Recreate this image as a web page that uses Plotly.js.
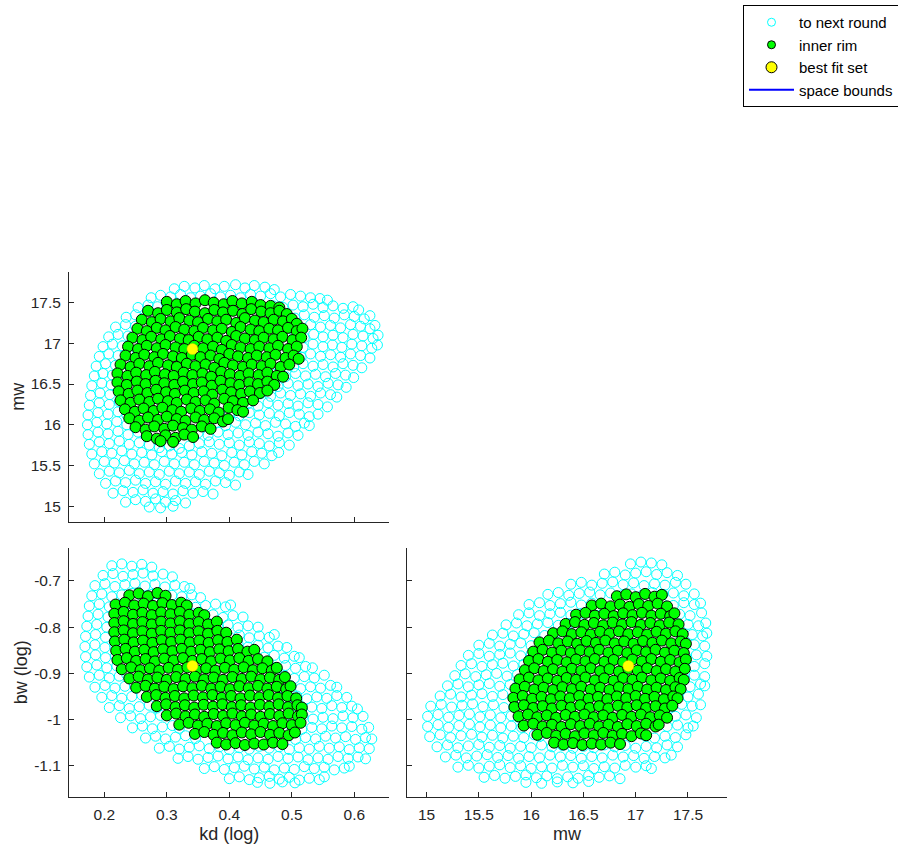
<!DOCTYPE html>
<html>
<head>
<meta charset="utf-8">
<script src="https://cdn.plot.ly/plotly-3.0.1.min.js"></script>
<style>html,body{margin:0;padding:0;background:#fff;}#chart{width:898px;height:850px;}</style>
</head>
<body>
<div id="chart"></div>
<script>
// ---------- data ----------
// top-left panel: [kd (log), mw]
const tlCyan = [
[0.312,17.67],[0.328,17.70],[0.345,17.68],[0.360,17.71],[0.377,17.67],[0.392,17.70],[0.410,17.72],[0.425,17.68],[0.440,17.71],[0.457,17.69],[0.472,17.66],
[0.275,17.56],[0.290,17.59],[0.306,17.57],[0.322,17.60],[0.338,17.56],[0.354,17.58],[0.370,17.61],[0.386,17.57],[0.402,17.59],[0.418,17.56],[0.434,17.60],[0.450,17.58],[0.466,17.61],[0.482,17.57],[0.498,17.60],[0.514,17.58],[0.530,17.56],[0.545,17.55],[0.557,17.53],
[0.254,17.44],[0.270,17.47],[0.285,17.45],[0.300,17.48],[0.470,17.46],[0.486,17.44],[0.502,17.47],[0.518,17.45],[0.534,17.48],[0.550,17.44],[0.566,17.46],[0.582,17.43],[0.598,17.45],[0.607,17.41],
[0.235,17.32],[0.250,17.35],[0.266,17.33],[0.280,17.36],[0.490,17.34],[0.505,17.31],[0.520,17.35],[0.536,17.32],[0.552,17.34],[0.568,17.31],[0.584,17.35],[0.600,17.33],[0.616,17.30],[0.625,17.34],
[0.218,17.20],[0.234,17.23],[0.250,17.21],[0.265,17.24],[0.500,17.22],[0.515,17.19],[0.530,17.23],[0.546,17.20],[0.562,17.22],[0.578,17.19],[0.594,17.23],[0.610,17.21],[0.625,17.18],[0.633,17.22],
[0.207,17.08],[0.222,17.11],[0.238,17.09],[0.254,17.12],[0.505,17.10],[0.520,17.07],[0.535,17.11],[0.550,17.08],[0.566,17.10],[0.582,17.07],[0.598,17.11],[0.614,17.09],[0.630,17.06],[0.638,17.10],
[0.198,16.96],[0.213,16.99],[0.229,16.97],[0.245,17.00],[0.502,16.98],[0.518,16.95],[0.534,16.99],[0.550,16.96],[0.565,16.98],[0.580,16.95],[0.596,16.99],[0.612,16.97],[0.628,16.94],[0.637,16.98],
[0.192,16.84],[0.207,16.87],[0.222,16.85],[0.238,16.88],[0.500,16.86],[0.515,16.83],[0.530,16.87],[0.546,16.84],[0.562,16.86],[0.578,16.83],[0.594,16.87],[0.610,16.85],[0.625,16.82],
[0.187,16.72],[0.202,16.75],[0.218,16.73],[0.233,16.76],[0.488,16.74],[0.503,16.71],[0.518,16.75],[0.534,16.72],[0.550,16.74],[0.566,16.71],[0.582,16.75],[0.598,16.73],[0.612,16.70],
[0.184,16.60],[0.198,16.63],[0.213,16.61],[0.228,16.64],[0.474,16.62],[0.490,16.59],[0.506,16.63],[0.522,16.60],[0.538,16.62],[0.554,16.59],[0.570,16.63],[0.586,16.61],[0.599,16.58],
[0.180,16.48],[0.196,16.51],[0.211,16.49],[0.226,16.52],[0.462,16.50],[0.478,16.47],[0.494,16.51],[0.510,16.48],[0.526,16.50],[0.542,16.47],[0.558,16.51],[0.574,16.49],[0.587,16.46],
[0.178,16.36],[0.193,16.39],[0.209,16.37],[0.224,16.40],[0.450,16.38],[0.466,16.35],[0.482,16.39],[0.498,16.36],[0.514,16.38],[0.530,16.35],[0.546,16.39],[0.562,16.37],[0.572,16.34],
[0.176,16.24],[0.192,16.27],[0.208,16.25],[0.224,16.28],[0.430,16.26],[0.446,16.23],[0.462,16.27],[0.478,16.24],[0.494,16.26],[0.510,16.23],[0.526,16.27],[0.542,16.25],[0.557,16.22],
[0.174,16.12],[0.190,16.15],[0.206,16.13],[0.222,16.16],[0.236,16.12],[0.400,16.14],[0.416,16.11],[0.432,16.15],[0.448,16.12],[0.464,16.14],[0.480,16.11],[0.496,16.15],[0.512,16.13],[0.528,16.10],[0.542,16.13],
[0.173,16.00],[0.188,16.03],[0.204,16.01],[0.220,16.04],[0.236,16.00],[0.250,16.03],[0.378,16.02],[0.394,15.99],[0.410,16.03],[0.426,16.00],[0.442,16.02],[0.458,15.99],[0.474,16.03],[0.490,16.01],[0.506,15.98],[0.520,16.02],[0.528,15.99],
[0.174,15.88],[0.190,15.91],[0.206,15.89],[0.222,15.92],[0.238,15.88],[0.254,15.91],[0.268,15.87],[0.350,15.90],[0.366,15.87],[0.382,15.91],[0.398,15.88],[0.414,15.90],[0.430,15.87],[0.446,15.91],[0.462,15.89],[0.478,15.86],[0.494,15.90],[0.510,15.87],
[0.176,15.76],[0.192,15.79],[0.208,15.77],[0.224,15.80],[0.240,15.76],[0.256,15.78],[0.272,15.75],[0.288,15.72],[0.304,15.74],[0.320,15.71],[0.336,15.74],[0.352,15.77],[0.368,15.79],[0.384,15.76],[0.400,15.78],[0.416,15.75],[0.432,15.79],[0.448,15.77],[0.464,15.74],[0.480,15.78],[0.496,15.75],
[0.180,15.64],[0.196,15.67],[0.212,15.65],[0.228,15.68],[0.244,15.64],[0.260,15.66],[0.276,15.63],[0.292,15.67],[0.308,15.64],[0.324,15.66],[0.340,15.63],[0.356,15.67],[0.372,15.65],[0.388,15.62],[0.404,15.66],[0.420,15.63],[0.436,15.67],[0.452,15.65],[0.468,15.62],[0.479,15.66],
[0.184,15.52],[0.200,15.55],[0.216,15.53],[0.232,15.56],[0.248,15.52],[0.264,15.54],[0.280,15.51],[0.296,15.55],[0.312,15.52],[0.328,15.54],[0.344,15.51],[0.360,15.55],[0.376,15.53],[0.392,15.50],[0.408,15.54],[0.424,15.51],[0.440,15.55],[0.456,15.52],
[0.192,15.40],[0.208,15.43],[0.224,15.41],[0.240,15.44],[0.256,15.40],[0.272,15.42],[0.288,15.39],[0.304,15.43],[0.320,15.40],[0.336,15.42],[0.352,15.39],[0.368,15.43],[0.384,15.41],[0.400,15.38],[0.416,15.42],[0.430,15.39],
[0.202,15.28],[0.218,15.31],[0.234,15.29],[0.250,15.32],[0.266,15.28],[0.282,15.30],[0.298,15.27],[0.314,15.31],[0.330,15.28],[0.346,15.30],[0.362,15.27],[0.378,15.31],[0.394,15.29],[0.410,15.26],
[0.214,15.16],[0.230,15.19],[0.246,15.17],[0.262,15.20],[0.278,15.16],[0.294,15.18],[0.310,15.15],[0.326,15.19],[0.342,15.16],[0.358,15.18],[0.374,15.15],
[0.234,15.05],[0.250,15.08],[0.266,15.06],[0.282,15.09],[0.298,15.05],[0.314,15.07],[0.330,15.04],
[0.272,14.99],[0.290,14.98],[0.310,15.00]
];
const tlGreen = [
[0.300,17.51],[0.316,17.48],[0.330,17.52],[0.346,17.49],[0.361,17.53],[0.375,17.50],[0.391,17.48],[0.405,17.52],[0.420,17.49],[0.436,17.51],[0.450,17.47],[0.466,17.46],[0.480,17.44],
[0.270,17.40],[0.286,17.37],[0.300,17.41],[0.316,17.38],[0.331,17.42],[0.345,17.39],[0.361,17.37],[0.376,17.41],[0.390,17.38],[0.406,17.40],[0.421,17.36],[0.435,17.42],[0.451,17.39],[0.466,17.37],[0.480,17.40],[0.492,17.36],
[0.260,17.29],[0.276,17.26],[0.290,17.30],[0.306,17.27],[0.320,17.31],[0.336,17.28],[0.350,17.26],[0.366,17.30],[0.381,17.27],[0.395,17.29],[0.411,17.25],[0.425,17.31],[0.441,17.28],[0.455,17.26],[0.471,17.29],[0.486,17.27],[0.500,17.30],[0.508,17.24],
[0.253,17.18],[0.268,17.15],[0.284,17.19],[0.298,17.16],[0.314,17.20],[0.328,17.17],[0.344,17.15],[0.358,17.19],[0.374,17.16],[0.388,17.18],[0.404,17.14],[0.418,17.20],[0.434,17.17],[0.448,17.15],[0.464,17.18],[0.478,17.16],[0.494,17.19],[0.508,17.15],[0.517,17.18],
[0.245,17.07],[0.261,17.04],[0.275,17.08],[0.291,17.05],[0.305,17.09],[0.321,17.06],[0.335,17.04],[0.351,17.08],[0.365,17.05],[0.381,17.07],[0.395,17.03],[0.411,17.09],[0.425,17.06],[0.441,17.04],[0.455,17.07],[0.471,17.05],[0.485,17.08],[0.501,17.04],[0.515,17.07],
[0.238,16.96],[0.254,16.93],[0.268,16.97],[0.284,16.94],[0.298,16.98],[0.314,16.95],[0.328,16.93],[0.344,16.97],[0.358,16.94],[0.374,16.96],[0.388,16.92],[0.404,16.98],[0.418,16.95],[0.434,16.93],[0.448,16.96],[0.464,16.94],[0.478,16.97],[0.494,16.93],[0.508,16.96],
[0.234,16.85],[0.250,16.82],[0.264,16.86],[0.280,16.83],[0.294,16.87],[0.310,16.84],[0.324,16.82],[0.340,16.86],[0.354,16.83],[0.370,16.85],[0.384,16.81],[0.400,16.87],[0.414,16.84],[0.430,16.82],[0.444,16.85],[0.460,16.83],[0.474,16.86],[0.490,16.82],[0.503,16.85],[0.511,16.81],
[0.226,16.74],[0.242,16.71],[0.256,16.75],[0.272,16.72],[0.286,16.76],[0.302,16.73],[0.316,16.71],[0.332,16.75],[0.346,16.72],[0.362,16.74],[0.376,16.70],[0.392,16.76],[0.406,16.73],[0.422,16.71],[0.436,16.74],[0.452,16.72],[0.466,16.75],[0.482,16.71],[0.496,16.74],
[0.221,16.63],[0.237,16.60],[0.251,16.64],[0.267,16.61],[0.281,16.65],[0.297,16.62],[0.311,16.60],[0.327,16.64],[0.341,16.61],[0.357,16.63],[0.371,16.59],[0.387,16.65],[0.401,16.62],[0.417,16.60],[0.431,16.63],[0.447,16.61],[0.461,16.64],[0.476,16.60],[0.486,16.59],
[0.221,16.52],[0.236,16.49],[0.252,16.53],[0.266,16.50],[0.282,16.54],[0.296,16.51],[0.312,16.49],[0.326,16.53],[0.342,16.50],[0.356,16.52],[0.372,16.48],[0.386,16.54],[0.402,16.51],[0.416,16.49],[0.432,16.52],[0.446,16.50],[0.461,16.53],[0.472,16.49],
[0.223,16.41],[0.239,16.38],[0.253,16.42],[0.269,16.39],[0.283,16.43],[0.299,16.40],[0.313,16.38],[0.329,16.42],[0.343,16.39],[0.359,16.41],[0.373,16.37],[0.389,16.43],[0.403,16.40],[0.419,16.38],[0.433,16.41],[0.449,16.39],[0.461,16.42],
[0.226,16.30],[0.242,16.27],[0.256,16.31],[0.272,16.28],[0.286,16.32],[0.302,16.29],[0.316,16.27],[0.332,16.31],[0.346,16.28],[0.362,16.30],[0.376,16.26],[0.392,16.32],[0.406,16.29],[0.422,16.27],[0.438,16.30],
[0.233,16.19],[0.249,16.16],[0.263,16.20],[0.279,16.17],[0.293,16.21],[0.309,16.18],[0.323,16.16],[0.339,16.20],[0.353,16.17],[0.369,16.19],[0.383,16.15],[0.399,16.21],[0.413,16.18],[0.422,16.16],
[0.240,16.08],[0.256,16.05],[0.270,16.09],[0.286,16.06],[0.300,16.10],[0.316,16.07],[0.330,16.05],[0.346,16.09],[0.360,16.06],[0.376,16.08],[0.390,16.04],[0.398,16.07],
[0.250,15.97],[0.266,15.94],[0.280,15.98],[0.296,15.95],[0.310,15.99],[0.326,15.96],[0.340,15.94],[0.356,15.98],[0.370,15.95],
[0.268,15.86],[0.284,15.83],[0.298,15.87],[0.314,15.84],[0.328,15.88],[0.342,15.85],
[0.290,15.80],[0.310,15.79]
];
// bottom-left panel: [kd (log), bw (log)]
const blCyan = [
[0.212,-0.667],[0.228,-0.663],[0.244,-0.668],[0.260,-0.664],[0.276,-0.670],
[0.198,-0.688],[0.214,-0.684],[0.230,-0.690],[0.246,-0.686],[0.262,-0.683],[0.278,-0.689],[0.294,-0.685],[0.309,-0.691],
[0.185,-0.710],[0.201,-0.706],[0.217,-0.712],[0.233,-0.708],[0.249,-0.705],[0.265,-0.711],[0.281,-0.707],[0.297,-0.713],[0.313,-0.709],[0.328,-0.712],[0.337,-0.716],
[0.180,-0.732],[0.196,-0.728],[0.212,-0.734],[0.228,-0.730],[0.244,-0.727],[0.260,-0.733],[0.276,-0.729],[0.292,-0.735],[0.308,-0.731],[0.324,-0.734],[0.340,-0.730],[0.354,-0.736],
[0.176,-0.754],[0.192,-0.750],[0.208,-0.756],[0.224,-0.752],[0.238,-0.749],[0.314,-0.755],[0.330,-0.751],[0.346,-0.757],[0.362,-0.753],[0.378,-0.750],[0.394,-0.756],[0.402,-0.752],
[0.174,-0.776],[0.190,-0.772],[0.206,-0.778],[0.222,-0.774],[0.342,-0.771],[0.358,-0.777],[0.374,-0.773],[0.390,-0.779],[0.406,-0.775],[0.422,-0.778],
[0.172,-0.798],[0.188,-0.794],[0.204,-0.800],[0.220,-0.796],[0.366,-0.793],[0.382,-0.799],[0.398,-0.795],[0.414,-0.801],[0.430,-0.797],[0.446,-0.800],
[0.170,-0.820],[0.186,-0.816],[0.202,-0.822],[0.218,-0.818],[0.384,-0.815],[0.400,-0.821],[0.416,-0.817],[0.432,-0.823],[0.448,-0.819],[0.464,-0.822],[0.472,-0.816],
[0.169,-0.842],[0.185,-0.838],[0.201,-0.844],[0.217,-0.840],[0.414,-0.837],[0.430,-0.843],[0.446,-0.839],[0.462,-0.845],[0.478,-0.841],[0.492,-0.844],
[0.170,-0.864],[0.186,-0.860],[0.202,-0.866],[0.218,-0.862],[0.440,-0.859],[0.456,-0.865],[0.472,-0.861],[0.488,-0.867],[0.504,-0.863],[0.512,-0.866],
[0.172,-0.886],[0.188,-0.882],[0.204,-0.888],[0.220,-0.884],[0.458,-0.881],[0.474,-0.887],[0.490,-0.883],[0.506,-0.889],[0.522,-0.885],[0.533,-0.888],
[0.176,-0.908],[0.192,-0.904],[0.208,-0.910],[0.224,-0.906],[0.236,-0.903],[0.472,-0.909],[0.488,-0.905],[0.504,-0.911],[0.520,-0.907],[0.536,-0.910],[0.552,-0.904],
[0.185,-0.930],[0.201,-0.926],[0.217,-0.932],[0.233,-0.928],[0.248,-0.925],[0.482,-0.931],[0.498,-0.927],[0.514,-0.933],[0.530,-0.929],[0.546,-0.932],[0.562,-0.926],[0.572,-0.930],
[0.196,-0.952],[0.212,-0.948],[0.228,-0.954],[0.244,-0.950],[0.260,-0.947],[0.492,-0.953],[0.508,-0.949],[0.524,-0.955],[0.540,-0.951],[0.556,-0.954],[0.572,-0.948],[0.588,-0.952],
[0.208,-0.974],[0.224,-0.970],[0.240,-0.976],[0.256,-0.972],[0.272,-0.969],[0.284,-0.975],[0.500,-0.971],[0.516,-0.977],[0.532,-0.973],[0.548,-0.976],[0.564,-0.970],[0.580,-0.974],[0.596,-0.971],[0.605,-0.977],
[0.226,-0.996],[0.242,-0.992],[0.258,-0.998],[0.274,-0.994],[0.290,-0.991],[0.502,-0.997],[0.518,-0.993],[0.534,-0.999],[0.550,-0.995],[0.566,-0.998],[0.582,-0.992],[0.598,-0.996],[0.614,-0.993],
[0.245,-1.018],[0.261,-1.014],[0.277,-1.020],[0.293,-1.016],[0.309,-1.013],[0.320,-1.019],[0.500,-1.015],[0.516,-1.021],[0.532,-1.017],[0.548,-1.020],[0.564,-1.014],[0.580,-1.018],[0.596,-1.015],[0.612,-1.021],[0.623,-1.017],
[0.266,-1.040],[0.282,-1.036],[0.298,-1.042],[0.314,-1.038],[0.330,-1.035],[0.346,-1.041],[0.490,-1.037],[0.506,-1.043],[0.522,-1.039],[0.538,-1.042],[0.554,-1.036],[0.570,-1.040],[0.586,-1.037],[0.602,-1.043],[0.618,-1.039],[0.628,-1.042],
[0.288,-1.062],[0.304,-1.058],[0.320,-1.064],[0.336,-1.060],[0.352,-1.057],[0.368,-1.063],[0.384,-1.059],[0.400,-1.065],[0.416,-1.061],[0.432,-1.064],[0.448,-1.058],[0.464,-1.062],[0.480,-1.059],[0.496,-1.065],[0.512,-1.061],[0.528,-1.064],[0.544,-1.058],[0.560,-1.062],[0.576,-1.059],[0.592,-1.065],[0.608,-1.061],[0.624,-1.063],
[0.318,-1.084],[0.334,-1.080],[0.350,-1.086],[0.366,-1.082],[0.382,-1.079],[0.398,-1.085],[0.414,-1.081],[0.430,-1.087],[0.446,-1.083],[0.462,-1.086],[0.478,-1.080],[0.494,-1.084],[0.510,-1.081],[0.526,-1.087],[0.542,-1.083],[0.558,-1.086],[0.574,-1.080],[0.590,-1.084],[0.606,-1.081],[0.618,-1.085],
[0.360,-1.106],[0.376,-1.102],[0.392,-1.108],[0.408,-1.104],[0.424,-1.101],[0.440,-1.107],[0.456,-1.103],[0.472,-1.109],[0.488,-1.105],[0.504,-1.108],[0.520,-1.102],[0.536,-1.106],[0.552,-1.103],[0.568,-1.109],[0.584,-1.105],[0.592,-1.101],
[0.400,-1.128],[0.416,-1.124],[0.432,-1.130],[0.448,-1.126],[0.464,-1.123],[0.480,-1.129],[0.496,-1.125],[0.512,-1.131],[0.528,-1.127],[0.544,-1.130],[0.552,-1.124],
[0.445,-1.136],[0.465,-1.138],[0.485,-1.135],[0.505,-1.137]
];
const blGreen = [
[0.240,-0.731],[0.255,-0.727],[0.270,-0.733],[0.285,-0.726],[0.298,-0.732],
[0.218,-0.751],[0.233,-0.747],[0.248,-0.753],[0.263,-0.749],[0.278,-0.754],[0.293,-0.748],[0.308,-0.752],[0.323,-0.747],[0.332,-0.753],
[0.216,-0.771],[0.231,-0.767],[0.246,-0.773],[0.261,-0.769],[0.276,-0.774],[0.291,-0.768],[0.306,-0.772],[0.321,-0.767],[0.336,-0.773],[0.351,-0.769],[0.360,-0.774],
[0.216,-0.791],[0.231,-0.787],[0.246,-0.793],[0.261,-0.789],[0.276,-0.794],[0.291,-0.788],[0.306,-0.792],[0.321,-0.787],[0.336,-0.793],[0.351,-0.789],[0.366,-0.794],[0.380,-0.788],
[0.216,-0.811],[0.231,-0.807],[0.246,-0.813],[0.261,-0.809],[0.276,-0.814],[0.291,-0.808],[0.306,-0.812],[0.321,-0.807],[0.336,-0.813],[0.351,-0.809],[0.366,-0.814],[0.381,-0.808],[0.395,-0.812],
[0.217,-0.831],[0.232,-0.827],[0.247,-0.833],[0.262,-0.829],[0.277,-0.834],[0.292,-0.828],[0.307,-0.832],[0.322,-0.827],[0.337,-0.833],[0.352,-0.829],[0.367,-0.834],[0.382,-0.828],[0.397,-0.832],[0.412,-0.827],
[0.219,-0.851],[0.234,-0.847],[0.249,-0.853],[0.264,-0.849],[0.279,-0.854],[0.294,-0.848],[0.309,-0.852],[0.324,-0.847],[0.339,-0.853],[0.354,-0.849],[0.369,-0.854],[0.384,-0.848],[0.399,-0.852],[0.414,-0.847],[0.429,-0.853],[0.440,-0.849],
[0.221,-0.871],[0.236,-0.867],[0.251,-0.873],[0.266,-0.869],[0.281,-0.874],[0.296,-0.868],[0.311,-0.872],[0.326,-0.867],[0.341,-0.873],[0.356,-0.869],[0.371,-0.874],[0.386,-0.868],[0.401,-0.872],[0.416,-0.867],[0.431,-0.873],[0.446,-0.869],[0.461,-0.874],
[0.228,-0.891],[0.243,-0.887],[0.258,-0.893],[0.273,-0.889],[0.288,-0.894],[0.303,-0.888],[0.318,-0.892],[0.333,-0.887],[0.348,-0.893],[0.363,-0.889],[0.378,-0.894],[0.393,-0.888],[0.408,-0.892],[0.423,-0.887],[0.438,-0.893],[0.453,-0.889],[0.468,-0.894],[0.476,-0.888],
[0.240,-0.911],[0.255,-0.907],[0.270,-0.913],[0.285,-0.909],[0.300,-0.914],[0.315,-0.908],[0.330,-0.912],[0.345,-0.907],[0.360,-0.913],[0.375,-0.909],[0.390,-0.914],[0.405,-0.908],[0.420,-0.912],[0.435,-0.907],[0.450,-0.913],[0.465,-0.909],[0.480,-0.914],[0.489,-0.908],
[0.251,-0.931],[0.266,-0.927],[0.281,-0.933],[0.296,-0.929],[0.311,-0.934],[0.326,-0.928],[0.341,-0.932],[0.356,-0.927],[0.371,-0.933],[0.386,-0.929],[0.401,-0.934],[0.416,-0.928],[0.431,-0.932],[0.446,-0.927],[0.461,-0.933],[0.476,-0.929],[0.491,-0.934],[0.498,-0.928],
[0.268,-0.951],[0.283,-0.947],[0.298,-0.953],[0.313,-0.949],[0.328,-0.954],[0.343,-0.948],[0.358,-0.952],[0.373,-0.947],[0.388,-0.953],[0.403,-0.949],[0.418,-0.954],[0.433,-0.948],[0.448,-0.952],[0.463,-0.947],[0.478,-0.953],[0.493,-0.949],[0.507,-0.954],
[0.284,-0.971],[0.299,-0.967],[0.314,-0.973],[0.329,-0.969],[0.344,-0.974],[0.359,-0.968],[0.374,-0.972],[0.389,-0.967],[0.404,-0.973],[0.419,-0.969],[0.434,-0.974],[0.449,-0.968],[0.464,-0.972],[0.479,-0.967],[0.494,-0.973],[0.509,-0.969],[0.516,-0.974],
[0.300,-0.991],[0.315,-0.987],[0.330,-0.993],[0.345,-0.989],[0.360,-0.994],[0.375,-0.988],[0.390,-0.992],[0.405,-0.987],[0.420,-0.993],[0.435,-0.989],[0.450,-0.994],[0.465,-0.988],[0.480,-0.992],[0.495,-0.987],[0.510,-0.993],[0.516,-0.989],
[0.320,-1.011],[0.335,-1.007],[0.350,-1.013],[0.365,-1.009],[0.380,-1.014],[0.395,-1.008],[0.410,-1.012],[0.425,-1.007],[0.440,-1.013],[0.455,-1.009],[0.470,-1.014],[0.485,-1.008],[0.500,-1.012],[0.514,-1.007],
[0.345,-1.031],[0.360,-1.027],[0.375,-1.033],[0.390,-1.029],[0.405,-1.034],[0.420,-1.028],[0.435,-1.032],[0.450,-1.027],[0.465,-1.033],[0.480,-1.029],[0.495,-1.034],[0.505,-1.028],
[0.380,-1.050],[0.395,-1.054],[0.410,-1.051],[0.425,-1.055],[0.440,-1.052],[0.455,-1.054],[0.470,-1.050],[0.485,-1.053]
];
// bottom-right panel: [mw, bw (log)]
const brCyan = [
[16.95,-0.663],[17.05,-0.659],[17.15,-0.661],[17.25,-0.665],
[16.70,-0.685],[16.80,-0.681],[16.90,-0.687],[17.00,-0.683],[17.10,-0.680],[17.20,-0.686],[17.30,-0.682],[17.40,-0.688],
[16.38,-0.707],[16.48,-0.703],[16.58,-0.709],[16.68,-0.705],[16.78,-0.702],[16.88,-0.708],[16.98,-0.704],[17.08,-0.710],[17.18,-0.706],[17.28,-0.709],[17.38,-0.703],[17.48,-0.707],
[16.16,-0.729],[16.26,-0.725],[16.36,-0.731],[16.46,-0.727],[16.56,-0.724],[16.66,-0.730],[16.76,-0.726],[16.86,-0.732],[16.96,-0.728],[17.06,-0.731],[17.16,-0.725],[17.26,-0.729],[17.36,-0.726],[17.46,-0.732],[17.56,-0.728],
[15.98,-0.751],[16.08,-0.747],[16.18,-0.753],[16.28,-0.749],[16.38,-0.746],[16.48,-0.752],[16.58,-0.748],[16.64,-0.754],[17.26,-0.750],[17.36,-0.753],[17.46,-0.747],[17.56,-0.751],[17.62,-0.748],
[15.88,-0.773],[15.98,-0.769],[16.08,-0.775],[16.18,-0.771],[16.28,-0.768],[16.38,-0.774],[16.48,-0.770],[17.32,-0.776],[17.42,-0.772],[17.52,-0.775],[17.63,-0.769],
[15.76,-0.795],[15.86,-0.791],[15.96,-0.797],[16.06,-0.793],[16.16,-0.790],[16.26,-0.796],[16.36,-0.792],[17.40,-0.798],[17.50,-0.794],[17.60,-0.797],[17.67,-0.791],
[15.63,-0.817],[15.73,-0.813],[15.83,-0.819],[15.93,-0.815],[16.03,-0.812],[16.13,-0.818],[16.23,-0.814],[17.44,-0.820],[17.54,-0.816],[17.64,-0.819],[17.68,-0.813],
[15.50,-0.839],[15.60,-0.835],[15.70,-0.841],[15.80,-0.837],[15.90,-0.834],[16.00,-0.840],[16.10,-0.836],[17.46,-0.842],[17.56,-0.838],[17.66,-0.841],
[15.40,-0.861],[15.50,-0.857],[15.60,-0.863],[15.70,-0.859],[15.80,-0.856],[15.90,-0.862],[16.00,-0.858],[17.48,-0.864],[17.58,-0.860],[17.68,-0.863],
[15.33,-0.883],[15.43,-0.879],[15.53,-0.885],[15.63,-0.881],[15.73,-0.878],[15.83,-0.884],[15.93,-0.880],[16.00,-0.886],[17.46,-0.882],[17.56,-0.885],[17.66,-0.879],
[15.27,-0.905],[15.37,-0.901],[15.47,-0.907],[15.57,-0.903],[15.67,-0.900],[15.77,-0.906],[15.87,-0.902],[17.46,-0.908],[17.56,-0.904],[17.66,-0.907],
[15.20,-0.927],[15.30,-0.923],[15.40,-0.929],[15.50,-0.925],[15.60,-0.922],[15.70,-0.928],[15.80,-0.924],[15.86,-0.930],[17.42,-0.926],[17.52,-0.929],[17.62,-0.923],[17.66,-0.927],
[15.13,-0.949],[15.23,-0.945],[15.33,-0.951],[15.43,-0.947],[15.53,-0.944],[15.63,-0.950],[15.73,-0.946],[15.83,-0.952],[17.40,-0.948],[17.50,-0.951],[17.60,-0.945],
[15.04,-0.971],[15.14,-0.967],[15.24,-0.973],[15.34,-0.969],[15.44,-0.966],[15.54,-0.972],[15.64,-0.968],[15.74,-0.974],[15.84,-0.970],[17.34,-0.973],[17.44,-0.967],[17.54,-0.971],[17.62,-0.968],
[15.01,-0.993],[15.11,-0.989],[15.21,-0.995],[15.31,-0.991],[15.41,-0.988],[15.51,-0.994],[15.61,-0.990],[15.71,-0.996],[15.81,-0.992],[15.88,-0.995],[17.28,-0.989],[17.38,-0.993],[17.48,-0.990],[17.58,-0.996],
[15.01,-1.015],[15.11,-1.011],[15.21,-1.017],[15.31,-1.013],[15.41,-1.010],[15.51,-1.016],[15.61,-1.012],[15.71,-1.018],[15.81,-1.014],[15.91,-1.017],[17.20,-1.011],[17.30,-1.015],[17.40,-1.012],[17.50,-1.018],[17.55,-1.014],
[15.03,-1.037],[15.13,-1.033],[15.23,-1.039],[15.33,-1.035],[15.43,-1.032],[15.53,-1.038],[15.63,-1.034],[15.73,-1.040],[15.83,-1.036],[15.93,-1.039],[16.03,-1.033],[16.08,-1.037],[17.08,-1.034],[17.18,-1.040],[17.28,-1.036],[17.38,-1.039],[17.48,-1.033],
[15.10,-1.059],[15.20,-1.055],[15.30,-1.061],[15.40,-1.057],[15.50,-1.054],[15.60,-1.060],[15.70,-1.056],[15.80,-1.062],[15.90,-1.058],[16.00,-1.061],[16.10,-1.055],[16.20,-1.059],[16.30,-1.056],[16.40,-1.062],[16.50,-1.058],[16.60,-1.061],[16.70,-1.055],[16.80,-1.059],[16.90,-1.056],[17.00,-1.062],[17.10,-1.058],[17.20,-1.061],[17.30,-1.055],[17.40,-1.059],
[15.18,-1.081],[15.28,-1.077],[15.38,-1.083],[15.48,-1.079],[15.58,-1.076],[15.68,-1.082],[15.78,-1.078],[15.88,-1.084],[15.98,-1.080],[16.08,-1.083],[16.18,-1.077],[16.28,-1.081],[16.38,-1.078],[16.48,-1.084],[16.58,-1.080],[16.68,-1.083],[16.78,-1.077],[16.88,-1.081],[16.98,-1.078],[17.08,-1.084],[17.18,-1.080],[17.28,-1.083],[17.34,-1.077],
[15.30,-1.103],[15.40,-1.099],[15.50,-1.105],[15.60,-1.101],[15.70,-1.098],[15.80,-1.104],[15.90,-1.100],[16.00,-1.106],[16.10,-1.102],[16.20,-1.105],[16.30,-1.099],[16.40,-1.103],[16.50,-1.100],[16.60,-1.106],[16.70,-1.102],[16.80,-1.105],[16.90,-1.099],[17.00,-1.103],[17.10,-1.100],[17.15,-1.106],
[15.55,-1.125],[15.65,-1.121],[15.75,-1.127],[15.85,-1.123],[15.95,-1.120],[16.05,-1.126],[16.15,-1.122],[16.25,-1.128],[16.35,-1.124],[16.45,-1.127],[16.55,-1.121],[16.65,-1.125],[16.75,-1.122],[16.85,-1.128],
[15.95,-1.136],[16.10,-1.138],[16.25,-1.135],[16.40,-1.137],[16.55,-1.134]
];
const brGreen = [
[16.82,-0.733],[16.91,-0.729],[17.00,-0.735],[17.09,-0.728],[17.18,-0.734],[17.25,-0.730],
[16.58,-0.753],[16.67,-0.749],[16.76,-0.755],[16.85,-0.751],[16.94,-0.756],[17.03,-0.750],[17.12,-0.754],[17.21,-0.749],[17.30,-0.755],
[16.43,-0.773],[16.52,-0.769],[16.61,-0.775],[16.70,-0.771],[16.79,-0.776],[16.88,-0.770],[16.97,-0.774],[17.06,-0.769],[17.15,-0.775],[17.24,-0.771],[17.33,-0.776],[17.37,-0.770],
[16.33,-0.793],[16.42,-0.789],[16.51,-0.795],[16.60,-0.791],[16.69,-0.796],[16.78,-0.790],[16.87,-0.794],[16.96,-0.789],[17.05,-0.795],[17.14,-0.791],[17.23,-0.796],[17.32,-0.790],[17.41,-0.794],
[16.21,-0.813],[16.30,-0.809],[16.39,-0.815],[16.48,-0.811],[16.57,-0.816],[16.66,-0.810],[16.75,-0.814],[16.84,-0.809],[16.93,-0.815],[17.02,-0.811],[17.11,-0.816],[17.20,-0.810],[17.29,-0.814],[17.38,-0.809],[17.45,-0.815],
[16.08,-0.833],[16.17,-0.829],[16.26,-0.835],[16.35,-0.831],[16.44,-0.836],[16.53,-0.830],[16.62,-0.834],[16.71,-0.829],[16.80,-0.835],[16.89,-0.831],[16.98,-0.836],[17.07,-0.830],[17.16,-0.834],[17.25,-0.829],[17.34,-0.835],[17.43,-0.831],[17.48,-0.836],
[16.02,-0.853],[16.11,-0.849],[16.20,-0.855],[16.29,-0.851],[16.38,-0.856],[16.47,-0.850],[16.56,-0.854],[16.65,-0.849],[16.74,-0.855],[16.83,-0.851],[16.92,-0.856],[17.01,-0.850],[17.10,-0.854],[17.19,-0.849],[17.28,-0.855],[17.37,-0.851],[17.46,-0.856],
[15.98,-0.873],[16.07,-0.869],[16.16,-0.875],[16.25,-0.871],[16.34,-0.876],[16.43,-0.870],[16.52,-0.874],[16.61,-0.869],[16.70,-0.875],[16.79,-0.871],[16.88,-0.876],[16.97,-0.870],[17.06,-0.874],[17.15,-0.869],[17.24,-0.875],[17.33,-0.871],[17.42,-0.876],[17.48,-0.870],
[15.94,-0.893],[16.03,-0.889],[16.12,-0.895],[16.21,-0.891],[16.30,-0.896],[16.39,-0.890],[16.48,-0.894],[16.57,-0.889],[16.66,-0.895],[16.75,-0.891],[16.84,-0.896],[16.93,-0.890],[17.02,-0.894],[17.11,-0.889],[17.20,-0.895],[17.29,-0.891],[17.38,-0.896],[17.47,-0.890],
[15.89,-0.913],[15.98,-0.909],[16.07,-0.915],[16.16,-0.911],[16.25,-0.916],[16.34,-0.910],[16.43,-0.914],[16.52,-0.909],[16.61,-0.915],[16.70,-0.911],[16.79,-0.916],[16.88,-0.910],[16.97,-0.914],[17.06,-0.909],[17.15,-0.915],[17.24,-0.911],[17.33,-0.916],[17.42,-0.910],[17.46,-0.914],
[15.85,-0.933],[15.94,-0.929],[16.03,-0.935],[16.12,-0.931],[16.21,-0.936],[16.30,-0.930],[16.39,-0.934],[16.48,-0.929],[16.57,-0.935],[16.66,-0.931],[16.75,-0.936],[16.84,-0.930],[16.93,-0.934],[17.02,-0.929],[17.11,-0.935],[17.20,-0.931],[17.29,-0.936],[17.38,-0.930],[17.43,-0.934],
[15.83,-0.953],[15.92,-0.949],[16.01,-0.955],[16.10,-0.951],[16.19,-0.956],[16.28,-0.950],[16.37,-0.954],[16.46,-0.949],[16.55,-0.955],[16.64,-0.951],[16.73,-0.956],[16.82,-0.950],[16.91,-0.954],[17.00,-0.949],[17.09,-0.955],[17.18,-0.951],[17.27,-0.956],[17.36,-0.950],[17.40,-0.954],
[15.84,-0.973],[15.93,-0.969],[16.02,-0.975],[16.11,-0.971],[16.20,-0.976],[16.29,-0.970],[16.38,-0.974],[16.47,-0.969],[16.56,-0.975],[16.65,-0.971],[16.74,-0.976],[16.83,-0.970],[16.92,-0.974],[17.01,-0.969],[17.10,-0.975],[17.19,-0.971],[17.28,-0.976],[17.35,-0.970],
[15.88,-0.993],[15.97,-0.989],[16.06,-0.995],[16.15,-0.991],[16.24,-0.996],[16.33,-0.990],[16.42,-0.994],[16.51,-0.989],[16.60,-0.995],[16.69,-0.991],[16.78,-0.996],[16.87,-0.990],[16.96,-0.994],[17.05,-0.989],[17.14,-0.995],[17.23,-0.991],[17.30,-0.996],
[15.93,-1.013],[16.02,-1.009],[16.11,-1.015],[16.20,-1.011],[16.29,-1.016],[16.38,-1.010],[16.47,-1.014],[16.56,-1.009],[16.65,-1.015],[16.74,-1.011],[16.83,-1.016],[16.92,-1.010],[17.01,-1.014],[17.10,-1.009],[17.19,-1.015],[17.22,-1.011],
[16.06,-1.033],[16.15,-1.029],[16.24,-1.035],[16.33,-1.031],[16.42,-1.036],[16.51,-1.030],[16.60,-1.034],[16.69,-1.029],[16.78,-1.035],[16.87,-1.031],[16.96,-1.036],[17.05,-1.030],[17.10,-1.034],
[16.22,-1.050],[16.31,-1.054],[16.40,-1.051],[16.49,-1.055],[16.58,-1.052],[16.67,-1.054],[16.76,-1.050],[16.85,-1.053]
];
// best fit set
const bestKd = [0.341];
const bestMw = [16.93];
const bestBw = [-0.884];
// tick labels
const kdTicks = [0.2, 0.3, 0.4, 0.5, 0.6];
const kdTickText = ['0.2', '0.3', '0.4', '0.5', '0.6'];
const mwTicks = [15, 15.5, 16, 16.5, 17, 17.5];
const mwTickText = ['15', '15.5', '16', '16.5', '17', '17.5'];
const bwTicks = [-1.1, -1, -0.9, -0.8, -0.7];
const bwTickText = ['-1.1', '-1', '-0.9', '-0.8', '-0.7'];
const seriesNames = ['to next round', 'inner rim', 'best fit set', 'space bounds'];

// ---------- styling ----------
const FONT = 'Liberation Sans, Arial, Helvetica, sans-serif';
const AX = '#262626';
const CYAN = '#00ffff', GREEN = '#00ff00', YELLOW = '#ffff00', BLUE = '#0000ff';
const px = a => a.map(p => p[0]);
const py = a => a.map(p => p[1]);

const cyanMarker = {symbol: 'circle-open', size: 10, color: CYAN, line: {width: 1, color: CYAN}};
const greenMarker = {symbol: 'circle', size: 11, color: GREEN, line: {width: 1, color: '#000'}};
const yellowMarker = {symbol: 'circle', size: 11, color: YELLOW, line: {width: 0.5, color: '#d8c800'}};

function panel(cy, gr, bx, by, xa, ya) {
  return [
    {type: 'scatter', mode: 'markers', x: px(cy), y: py(cy), xaxis: xa, yaxis: ya, marker: cyanMarker, showlegend: false, hoverinfo: 'skip'},
    {type: 'scatter', mode: 'markers', x: px(gr), y: py(gr), xaxis: xa, yaxis: ya, marker: greenMarker, showlegend: false, hoverinfo: 'skip'},
    {type: 'scatter', mode: 'markers', x: bx, y: by, xaxis: xa, yaxis: ya, marker: yellowMarker, showlegend: false, hoverinfo: 'skip'}
  ];
}

const data = [].concat(
  panel(tlCyan, tlGreen, bestKd, bestMw, 'x', 'y'),
  panel(blCyan, blGreen, bestKd, bestBw, 'x2', 'y2'),
  panel(brCyan, brGreen, bestMw, bestBw, 'x3', 'y3'),
  [
    {type: 'scatter', mode: 'markers', x: [null], y: [null], name: seriesNames[0], marker: {symbol: 'circle-open', size: 8, color: CYAN, line: {width: 1, color: CYAN}}},
    {type: 'scatter', mode: 'markers', x: [null], y: [null], name: seriesNames[1], marker: {symbol: 'circle', size: 8, color: GREEN, line: {width: 1, color: '#000'}}},
    {type: 'scatter', mode: 'markers', x: [null], y: [null], name: seriesNames[2], marker: {symbol: 'circle', size: 11, color: YELLOW, line: {width: 1, color: '#000'}}},
    {type: 'scatter', mode: 'lines', x: [null], y: [null], name: seriesNames[3], line: {color: BLUE, width: 2}}
  ]
);

const W = 898, H = 850;
const colA = [69 / W, 389.3 / W], colB = [406.7 / W, 727.3 / W];
const rowTop = [1 - 521.7 / H, 1 - 272 / H], rowBot = [1 - 796.7 / H, 1 - 548 / H];
const kdRange = [0.1435, 0.656], mwRange = [14.81, 17.876], bwRange = [-1.167, -0.6286];

function axis(extra) {
  return Object.assign({
    showline: true, linecolor: AX, linewidth: 1, mirror: false,
    ticks: 'inside', ticklen: 5, tickwidth: 1, tickcolor: AX,
    showgrid: false, zeroline: false, fixedrange: true,
    tickfont: {family: FONT, size: 15.5, color: AX},
    ticklabelstandoff: 4
  }, extra);
}
const titleFont = {family: FONT, size: 18, color: AX};

const layout = {
  width: W, height: H,
  margin: {l: 0, r: 0, t: 0, b: 0, autoexpand: false},
  paper_bgcolor: '#fff', plot_bgcolor: 'rgba(0,0,0,0)',
  showlegend: true,
  legend: {
    x: 743 / W, y: 1 - 5 / H, xanchor: 'left', yanchor: 'top',
    bordercolor: '#000', borderwidth: 1, bgcolor: '#fff',
    font: {family: FONT, size: 15, color: '#000'},
    itemwidth: 45, tracegroupgap: 0
  },
  xaxis: axis({domain: colA, range: kdRange, anchor: 'y', tickvals: kdTicks, ticktext: kdTickText, showticklabels: false}),
  yaxis: axis({domain: rowTop, range: mwRange, anchor: 'x', tickvals: mwTicks, ticktext: mwTickText,
               title: {text: 'mw', font: titleFont, standoff: 1}}),
  xaxis2: axis({domain: colA, range: kdRange, anchor: 'y2', tickvals: kdTicks, ticktext: kdTickText,
                title: {text: 'kd (log)', font: titleFont, standoff: 5}}),
  yaxis2: axis({domain: rowBot, range: bwRange, anchor: 'x2', tickvals: bwTicks, ticktext: bwTickText,
                title: {text: 'bw (log)', font: titleFont, standoff: 1}}),
  xaxis3: axis({domain: colB, range: mwRange, anchor: 'y3', tickvals: mwTicks, ticktext: mwTickText,
                title: {text: 'mw', font: titleFont, standoff: 5}}),
  yaxis3: axis({domain: rowBot, range: bwRange, anchor: 'x3', tickvals: bwTicks, ticktext: bwTickText, showticklabels: false})
};

Plotly.newPlot('chart', data, layout, {staticPlot: true, displayModeBar: false});
</script>
</body>
</html>
